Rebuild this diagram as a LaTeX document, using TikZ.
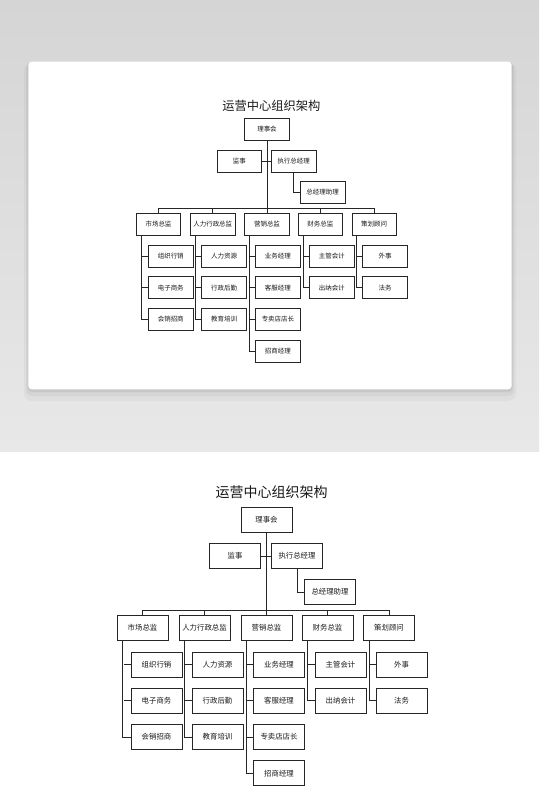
\documentclass[tikz,border=0pt]{standalone}
\usepackage{fontspec}
\newfontfamily\cjk{Noto Sans CJK SC}
\usepackage{tikz}
\usetikzlibrary{shadows}

\definecolor{bgdark}{RGB}{213,213,213}
\definecolor{bglight}{RGB}{232,232,232}
\definecolor{linegray}{RGB}{38,38,38}

\tikzset{
  post/.style={draw=linegray, line width=.75pt, fill=white, minimum width=51pt,
    minimum height=25pt, inner sep=0pt, text=black!90,
    font=\cjk\fontsize{7.4}{9}\selectfont,
    drop shadow={shadow xshift=.6pt, shadow yshift=-.6pt, opacity=.3}},
  charttitle/.style={font=\cjk\fontsize{14}{16}\selectfont, text=black!90},
  link/.style={draw=linegray, line width=.7pt},
  orgchart/.pic={
    \node[charttitle] (title) at (5,27.5) {运营中心组织架构};

    \node[post] (board) at (0,0) {理事会};
    \node[post] (sup) at (-31.5,-36) {监事};
    \node[post] (ceo) at (30.5,-36) {执行总经理};
    \node[post] (asst) at (63.5,-72) {总经理助理};

    \node[post] (mkt) at (-124,-108) {市场总监};
    \node[post] (hr) at (-62,-108) {人力行政总监};
    \node[post] (sales) at (0,-108) {营销总监};
    \node[post] (fin) at (61,-108) {财务总监};
    \node[post] (plan) at (122.5,-108) {策划顾问};

    \node[post] (mkt1) at (-110,-144.5) {组织行销};
    \node[post] (mkt2) at (-110,-180.8) {电子商务};
    \node[post] (mkt3) at (-110,-217) {会销招商};

    \node[post] (hr1) at (-49,-144.5) {人力资源};
    \node[post] (hr2) at (-49,-180.8) {行政后勤};
    \node[post] (hr3) at (-49,-217) {教育培训};

    \node[post] (sales1) at (12.5,-144.5) {业务经理};
    \node[post] (sales2) at (12.5,-180.8) {客服经理};
    \node[post] (sales3) at (12.5,-217) {专卖店店长};
    \node[post] (sales4) at (12.5,-253.3) {招商经理};

    \node[post] (fin1) at (74,-144.5) {主管会计};
    \node[post] (fin2) at (74,-180.8) {出纳会计};

    \node[post] (plan1) at (135,-144.5) {外事};
    \node[post] (plan2) at (135,-180.8) {法务};

    % top of the chart
    \draw[link] (board.south) -- (sales.north);
    \draw[link] (sup.east) -- (ceo.west);
    \draw[link] (ceo.south) |- (asst.west);

    % bus to the directors
    \draw[link] (mkt.north) -- ++(0,5) -| (plan.north);
    \draw[link] (hr.north) -- ++(0,5);
    \draw[link] (fin.north) -- ++(0,5);

    % departments
    \draw[link] (mkt.south west) ++(6,0) |- (mkt3.west);
    \draw[link] (mkt1.west) -- ++(-7,0);
    \draw[link] (mkt2.west) -- ++(-7,0);

    \draw[link] (hr.south west) ++(6,0) |- (hr3.west);
    \draw[link] (hr1.west) -- ++(-7,0);
    \draw[link] (hr2.west) -- ++(-7,0);

    \draw[link] (sales.south west) ++(6,0) |- (sales4.west);
    \draw[link] (sales1.west) -- ++(-7,0);
    \draw[link] (sales2.west) -- ++(-7,0);
    \draw[link] (sales3.west) -- ++(-7,0);

    \draw[link] (fin.south west) ++(6,0) |- (fin2.west);
    \draw[link] (fin1.west) -- ++(-7,0);

    \draw[link] (plan.south west) ++(6,0) |- (plan2.west);
    \draw[link] (plan1.west) -- ++(-7,0);
  }
}

\begin{document}
\begin{tikzpicture}[x=1pt, y=1pt]
  \useasboundingbox (0,0) rectangle (539,-812);
  \fill[white] (0,0) rectangle (539,-812);

  % grey backdrop with the card
  \shade[top color=bgdark, bottom color=bglight] (0,0) rectangle (539,-451.5);
  \fill[black, opacity=.03, rounded corners=8pt] (24,-63) rectangle (516,-401);
  \fill[black, opacity=.04, rounded corners=6pt] (26,-62.5) rectangle (514,-396);
  \fill[black, opacity=.06, rounded corners=4pt] (27.5,-62) rectangle (512.5,-392);
  \fill[white, rounded corners=3.5pt] (28.3,-61.7) rectangle (511.7,-389.3);

  \pic[scale=.875, transform shape] (top) at (267,-129.5) {orgchart};
  \pic (bot) at (266.5,-520) {orgchart};
\end{tikzpicture}
\end{document}
